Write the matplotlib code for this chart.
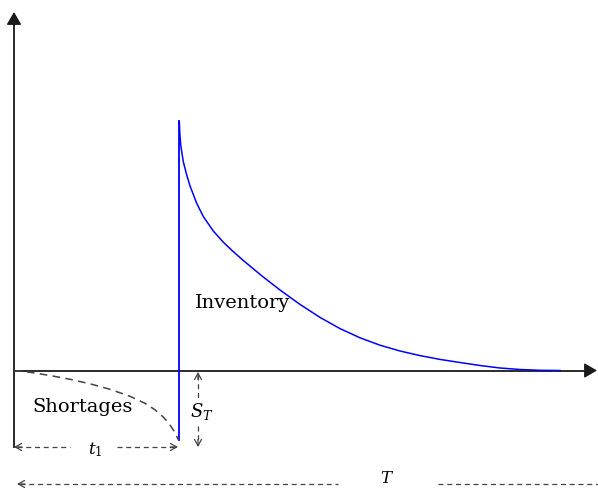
import matplotlib
matplotlib.use("Agg")
import matplotlib.pyplot as plt

plt.rcParams["mathtext.fontset"] = "dejavuserif"

# time / level in arbitrary units (1 unit = 100 px on the sheet)
t1 = 1.65
s_t = 0.695

# inventory after replenishment
inv_t = [1.653, 1.658, 1.667, 1.693, 1.727, 1.760, 1.827, 1.893, 1.993,
         2.093, 2.190, 2.290, 2.480, 2.660, 2.860, 3.060, 3.260, 3.460,
         3.660, 3.860, 4.060, 4.260, 4.460, 4.660, 4.860, 5.060, 5.260, 5.460]
inv_level = [2.490, 2.375, 2.255, 2.088, 1.955, 1.846, 1.672, 1.540, 1.395,
             1.283, 1.191, 1.103, 0.945, 0.805, 0.661, 0.531, 0.419, 0.327,
             0.253, 0.195, 0.149, 0.111, 0.080, 0.050, 0.025, 0.010, 0.002,
             0.0]

# backlog building up before the order arrives
short_t = [0.0, 0.16, 0.36, 0.56, 0.76, 0.96, 1.16, 1.31, 1.41, 1.49, 1.55,
           1.60, 1.63, 1.645]
short_level = [0.0, -0.018, -0.050, -0.088, -0.133, -0.188, -0.258, -0.328,
               -0.393, -0.463, -0.530, -0.605, -0.665, -0.695]

fig = plt.figure(figsize=(5.98, 4.88), dpi=100)
ax = fig.add_axes([0, 0, 1, 1])
ax.set_xlim(-0.14, 5.84)
ax.set_ylim(-1.175, 3.705)
ax.axis("off")

axis_col = "#1a1a1a"
dash_col = "#444444"

# axes with arrow heads
ax.plot([0, 0], [-0.77, 3.50], color=axis_col, lw=1.3, solid_capstyle="butt")
ax.plot([0, 5.76], [0, 0], color=axis_col, lw=1.3, solid_capstyle="butt")
head = dict(arrowstyle="-|>,head_length=0.6,head_width=0.35", color=axis_col,
            lw=1.0, shrinkA=0, shrinkB=0, mutation_scale=13)
ax.annotate("", xy=(0, 3.585), xytext=(0, 3.45), arrowprops=head)
ax.annotate("", xy=(5.83, 0), xytext=(5.70, 0), arrowprops=head)

# inventory curve and replenishment jump
ax.plot(inv_t, inv_level, color="#0000ff", lw=1.1)
ax.plot([t1, t1], [-s_t, inv_level[0]], color="#0000ff", lw=1.3)

# shortage curve
ax.plot(short_t, short_level, color=dash_col, lw=1.1, ls=(0, (5, 3.5)))

dash = dict(color=dash_col, lw=0.9, ls=(0, (4, 3)))
tip = dict(arrowstyle="->,head_length=0.45,head_width=0.25", color=dash_col,
           lw=0.9, shrinkA=0, shrinkB=0, mutation_scale=10)

# t1 span
y_t1 = -0.765
ax.plot([0.03, 0.56], [y_t1, y_t1], **dash)
ax.plot([1.03, 1.62], [y_t1, y_t1], **dash)
ax.annotate("", xy=(0, y_t1), xytext=(0.08, y_t1), arrowprops=tip)
ax.annotate("", xy=(1.64, y_t1), xytext=(1.56, y_t1), arrowprops=tip)
ax.text(0.81, -0.79, r"$t_1$", fontsize=12, ha="center", va="center")

# S_T span
x_s = 1.84
ax.plot([x_s, x_s], [-0.04, -0.29], **dash)
ax.plot([x_s, x_s], [-0.55, -0.74], **dash)
ax.annotate("", xy=(x_s, -0.015), xytext=(x_s, -0.09), arrowprops=tip)
ax.annotate("", xy=(x_s, -0.765), xytext=(x_s, -0.69), arrowprops=tip)
ax.text(1.88, -0.41, r"$S_T$", fontsize=13, ha="center", va="center")

# cycle length T
y_T = -1.135
ax.plot([0.06, 3.24], [y_T, y_T], **dash)
ax.plot([4.24, 5.84], [y_T, y_T], **dash)
ax.annotate("", xy=(0.03, y_T), xytext=(0.11, y_T), arrowprops=tip)
ax.text(3.73, -1.075, r"$T$", fontsize=12, ha="center", va="center")

ax.text(1.81, 0.68, "Inventory", family="DejaVu Serif", fontsize=14,
        ha="left", va="center")
ax.text(0.18, -0.365, "Shortages", family="DejaVu Serif", fontsize=14,
        ha="left", va="center")

fig.savefig("out.png", dpi=100)
